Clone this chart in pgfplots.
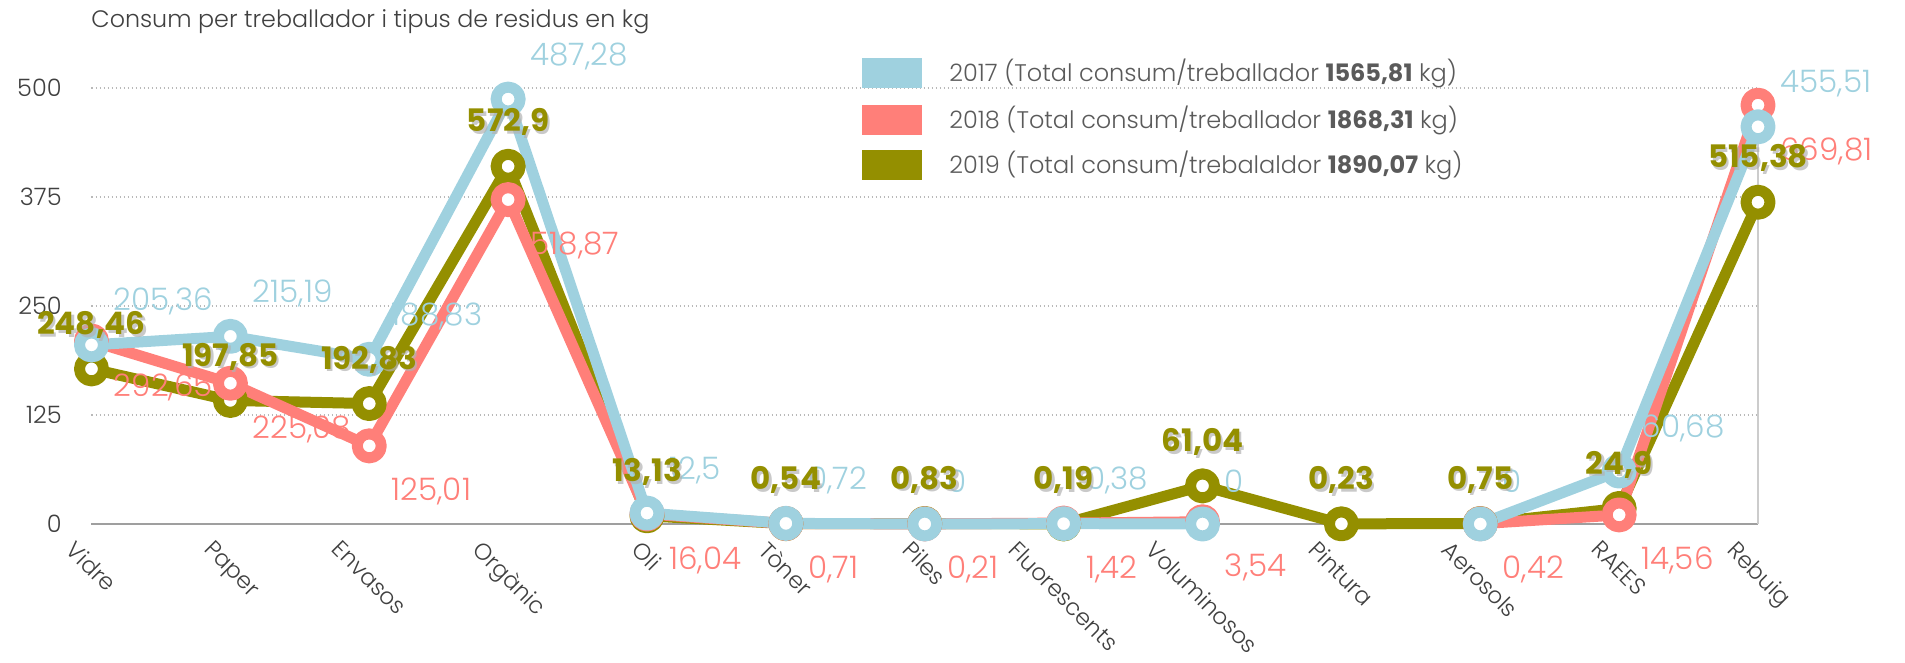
\documentclass[border=0pt]{standalone}
\usepackage{fontspec}
\usepackage{graphicx}
\IfFontExistsTF{Poppins Light}{%
  \IfFontExistsTF{Poppins Bold}{\setmainfont{Poppins Light}[BoldFont={Poppins Bold}]}{\setmainfont{Poppins Light}}%
}{\setmainfont{Poppins}}
\usepackage{pgfplots}
\usepackage{pgfplotstable}
\pgfplotsset{compat=1.18}
\definecolor{cA}{HTML}{9FD1DF}
\definecolor{cB}{HTML}{FF7F79}
\definecolor{cC}{HTML}{948F00}
\definecolor{txt}{HTML}{404040}
\definecolor{leg}{HTML}{5A5A5A}

% 2017: plotted value = label
\pgfplotstableread{
x y lab
0 205.36 205,36
1 215.19 215,19
2 188.83 188,83
3 487.28 487,28
4 12.5 12,5
5 0.72 0,72
6 0 0
7 0.38 0,38
8 0 0
9 nan x
10 0 0
11 60.68 60,68
12 455.51 455,51
}\tblA
% 2018: plotted position (as drawn) and label
\pgfplotstableread{
x y lab
0 209.8 292,65
1 161.4 225,08
2 89.6 125,01
3 372.0 518,87
4 11.5 16,04
5 0.51 0,71
6 0.15 0,21
7 1.02 1,42
8 2.54 3,54
9 nan x
10 0.30 0,42
11 10.44 14,56
12 480.3 669,81
}\tblB
% 2019: plotted position (as drawn) and label
\pgfplotstableread{
x y lab
0 177.9 248,46
1 141.7 197,85
2 138.1 192,83
3 410.2 572,9
4 9.4 13,13
5 0.39 0,54
6 0.59 0,83
7 0.14 0,19
8 43.7 61,04
9 0.16 0,23
10 0.54 0,75
11 17.8 24,9
12 369.0 515,38
}\tblC

\begin{document}
\begin{tikzpicture}
\path[use as bounding box] (0,0) rectangle (952.5pt,331.5pt);
\begin{axis}[
  at={(45.75pt,69.5pt)}, anchor=south west,
  scale only axis, width=833.25pt, height=218pt,
  xmin=0, xmax=12, ymin=0, ymax=500,
  clip=false, unbounded coords=jump,
  axis line style={draw=none}, tick style={draw=none},
  xtick={0,...,12},
  xticklabels={\rotatebox{-45}{Vidre},\rotatebox{-45}{Paper},\rotatebox{-45}{Envasos},\rotatebox{-45}{Orgànic},\rotatebox{-45}{Oli},\rotatebox{-45}{Tòner},\rotatebox{-45}{Piles},\rotatebox{-45}{Fluorescents},\rotatebox{-45}{Voluminosos},\rotatebox{-45}{Pintura},\rotatebox{-45}{Aerosols},\rotatebox{-45}{RAEES},\rotatebox{-45}{Rebuig}},
  xticklabel style={anchor=north, inner sep=0pt, yshift=-7.5pt, text=txt, font=\fontsize{11.5}{13}\selectfont},
  ytick={0,125,250,375,500},
  yticklabel style={inner sep=0pt, anchor=east, xshift=-14.75pt, text=txt, font=\fontsize{12}{14}\selectfont},
  /pgf/number format/assume math mode=true,
  ymajorgrids,
  grid style={gray!55, line width=0.7pt, dash pattern=on 0.7pt off 1.3pt},
]
\draw[gray!75, line width=0.8pt] (axis cs:0,0) -- (axis cs:12,0);
\draw[gray!40, line width=0.8pt] (axis cs:12,0) -- (axis cs:12,500);

% 2018 labels (behind lines)
\addplot[draw=none, mark=none, nodes near coords={\pgfplotspointmeta}, point meta=explicit symbolic,
  every node near coord/.append style={inner sep=0pt, text=cB, font=\fontsize{15.5}{17}\selectfont, anchor=west, xshift=11pt, yshift=-23pt}]
  table[x=x, y=y, meta=lab] {\tblB};

% lines
\addplot[cC, line width=5.5pt, line join=round, mark=*, mark size=6pt, mark options={fill=white, draw=cC, solid}]
  table[x=x, y=y] {\tblC};
\addplot[cB, line width=5.5pt, line join=round, mark=*, mark size=6pt, mark options={fill=white, draw=cB, solid}]
  table[x=x, y=y] {\tblB};
\addplot[cA, line width=5.5pt, line join=round, mark=*, mark size=6pt, mark options={fill=white, draw=cA, solid}]
  table[x=x, y=y] {\tblA};

% 2017 labels
\addplot[draw=none, mark=none, nodes near coords={\pgfplotspointmeta}, point meta=explicit symbolic,
  every node near coord/.append style={inner sep=0pt, text=cA, font=\fontsize{15.5}{17}\selectfont, anchor=west, xshift=11pt, yshift=21.5pt}]
  table[x=x, y=y, meta=lab] {\tblA};

% 2019 labels shadow
\addplot[draw=none, mark=none, nodes near coords={\pgfplotspointmeta}, point meta=explicit symbolic,
  every node near coord/.append style={inner sep=0pt, text=black!30, opacity=0.7, font=\fontsize{15.5}{17}\selectfont\bfseries, anchor=center, xshift=1.2pt, yshift=20.6pt}]
  table[x=x, y=y, meta=lab] {\tblC};
% 2019 labels
\addplot[draw=none, mark=none, nodes near coords={\pgfplotspointmeta}, point meta=explicit symbolic,
  every node near coord/.append style={inner sep=0pt, text=cC, font=\fontsize{15.5}{17}\selectfont\bfseries, anchor=center, yshift=22pt}]
  table[x=x, y=y, meta=lab] {\tblC};
\end{axis}

% title
\node[anchor=west, inner sep=0pt, text=txt, font=\fontsize{11.9}{14}\selectfont] at (45.5pt,320.5pt) {Consum per treballador i tipus de residus en kg};

% legend
\fill[cA] (431pt,287.5pt) rectangle (461pt,302.5pt);
\fill[cB] (431pt,264pt) rectangle (461pt,279pt);
\fill[cC] (431pt,241.5pt) rectangle (461pt,256.5pt);
\node[anchor=west, inner sep=0pt, text=leg, font=\fontsize{12}{14}\selectfont] at (474.5pt,295pt) {2017 (Total consum/treballador \textbf{1565,81} kg)};
\node[anchor=west, inner sep=0pt, text=leg, font=\fontsize{12}{14}\selectfont] at (474.5pt,271.5pt) {2018 (Total consum/treballador \textbf{1868,31} kg)};
\node[anchor=west, inner sep=0pt, text=leg, font=\fontsize{12}{14}\selectfont] at (474.5pt,249pt) {2019 (Total consum/trebalaldor \textbf{1890,07} kg)};
\end{tikzpicture}
\end{document}
